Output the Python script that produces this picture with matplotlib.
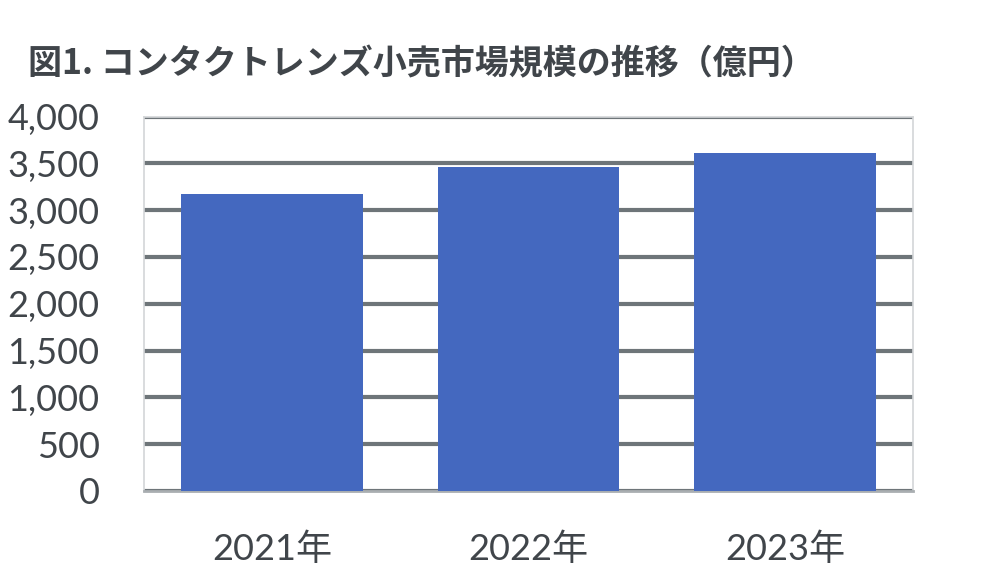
import matplotlib.pyplot as plt
import numpy as np

plt.rcParams['font.family'] = ['Lato', 'Noto Sans CJK JP', 'DejaVu Sans']

# Data (億円)
years = ['2021年', '2022年', '2023年']
market_size = [3170, 3465, 3610]
yticks = np.arange(0, 4001, 500)

bar_color = '#4468BF'
text_color = '#40454A'
grid_color = '#6E7579'

fig = plt.figure(figsize=(10, 5.83), dpi=100)
ax = fig.add_axes([0.144, 0.158, 0.769, 0.642])

x = np.arange(len(years))
ax.bar(x, market_size, width=0.71, color=bar_color, zorder=3)

ax.set_xlim(-0.5, 2.5)
ax.set_ylim(0, 4000)
ax.set_yticks(yticks)
ax.set_yticklabels([f'{v:,}' for v in yticks])
ax.set_xticks(x)
ax.set_xticklabels(years)

ax.yaxis.grid(True, color=grid_color, lw=3, zorder=1)
ax.set_axisbelow(True)
for side in ['left', 'right', 'top']:
    ax.spines[side].set_color('#D3D6D8')
    ax.spines[side].set_linewidth(1.2)
ax.spines['bottom'].set_color('#A9AEB1')
ax.spines['bottom'].set_linewidth(2)

ax.tick_params(axis='both', length=0, labelsize=26, labelcolor=text_color)
ax.tick_params(axis='y', pad=32)
ax.tick_params(axis='x', pad=30)

fig.text(0.028, 0.89, '図1. コンタクトレンズ小売市場規模の推移（億円）',
         fontsize=24.5, fontweight='bold', color=text_color,
         family=['Noto Sans CJK JP', 'DejaVu Sans'], va='center')

fig.savefig('out.png', dpi=100)
